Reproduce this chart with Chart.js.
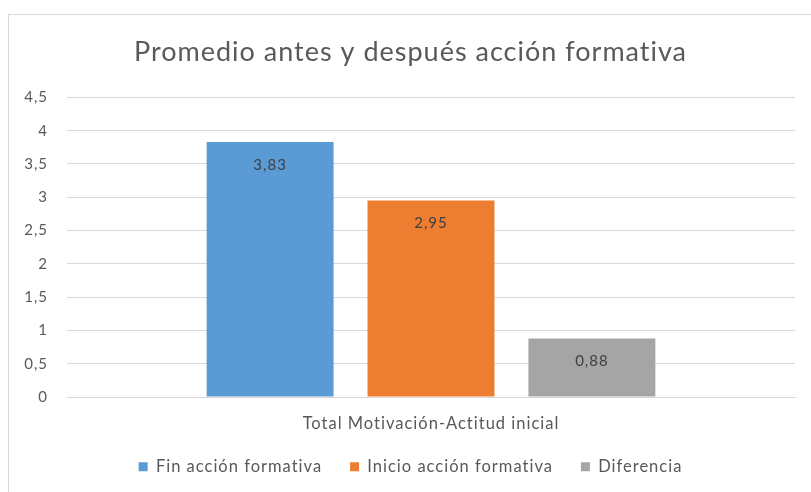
<!DOCTYPE html>
<html>
<head>
<meta charset="utf-8">
<script src="https://cdn.jsdelivr.net/npm/chart.js@4.4.1/dist/chart.umd.min.js"></script>
<style>
  body { margin: 0; background: #fff; }
  #box {
    position: absolute; left: 8px; top: 14px;
    width: 803px; height: 478px;
    border-left: 1px solid #d9d9d9; border-top: 1px solid #d9d9d9;
  }
</style>
</head>
<body>
<div id="box"><canvas id="myChart" width="803" height="478"></canvas></div>
<script>
var categories = ["Total Motivación-Actitud inicial"];
var seriesNames = ["Fin acción formativa", "Inicio acción formativa", "Diferencia"];
var finValues = [3.83];
var inicioValues = [2.95];
var diferenciaValues = [0.88];
var seriesColors = ["#5b9bd5", "#ed7d31", "#a5a5a5"];

function comma(v) {
  return String(v).replace(".", ",");
}

// the source text is drawn a little loose, so widen the letters a bit
var spacing = {
  id: "spacing",
  beforeUpdate: function (chart) { chart.ctx.letterSpacing = "1px"; },
  beforeDraw: function (chart) { chart.ctx.letterSpacing = "1px"; }
};

var barLabels = {
  id: "barLabels",
  afterDatasetsDraw: function (chart) {
    var ctx = chart.ctx;
    ctx.save();
    ctx.font = "15px Lato";
    ctx.fillStyle = "#404040";
    ctx.textAlign = "center";
    ctx.textBaseline = "middle";
    chart.data.datasets.forEach(function (ds, i) {
      chart.getDatasetMeta(i).data.forEach(function (bar, j) {
        ctx.fillText(comma(ds.data[j].toFixed(2)), bar.x, bar.y + 23);
      });
    });
    ctx.restore();
  }
};

window.onload = function () {
  var ctx = document.getElementById("myChart").getContext("2d");
  var allValues = [finValues, inicioValues, diferenciaValues];
  var myBar = new Chart(ctx, {
    type: "bar",
    data: {
      labels: categories,
      datasets: seriesNames.map(function (name, i) {
        return {
          label: name,
          data: allValues[i],
          backgroundColor: seriesColors[i],
          categoryPercentage: 0.663,
          barPercentage: 0.789
        };
      })
    },
    options: {
      responsive: false,
      animation: false,
      layout: { padding: { left: 0, right: 0, bottom: 8 } },
      plugins: {
        title: {
          display: true,
          text: "Promedio antes y después acción formativa",
          color: "#595959",
          font: { family: "Lato", size: 27, weight: "normal" },
          padding: { top: 21, bottom: 29 }
        },
        legend: {
          position: "bottom",
          labels: {
            color: "#595959",
            font: { family: "Lato", size: 16.5 },
            boxWidth: 9,
            boxHeight: 9,
            padding: 28
          }
        },
        tooltip: { enabled: false }
      },
      scales: {
        x: {
          grid: { display: false },
          border: { color: "#d9d9d9" },
          ticks: { color: "#595959", font: { family: "Lato", size: 16.5 }, padding: 9 },
          afterFit: function (s) { s.height = 33.5; }
        },
        y: {
          min: 0,
          max: 4.5,
          grid: { color: "#d9d9d9", drawTicks: false },
          border: { display: false },
          ticks: {
            stepSize: 0.5,
            color: "#595959",
            font: { family: "Lato", size: 15 },
            padding: 19,
            callback: function (v) { return comma(v); }
          },
          afterFit: function (s) { s.width = 58; }
        },
        // empty right-hand box, only keeps the plot area off the right edge
        yRight: {
          position: "right",
          grid: { display: false },
          border: { display: false },
          ticks: { display: false },
          afterFit: function (s) { s.width = 17; }
        }
      }
    },
    plugins: [spacing, barLabels]
  });
};
</script>
</body>
</html>
